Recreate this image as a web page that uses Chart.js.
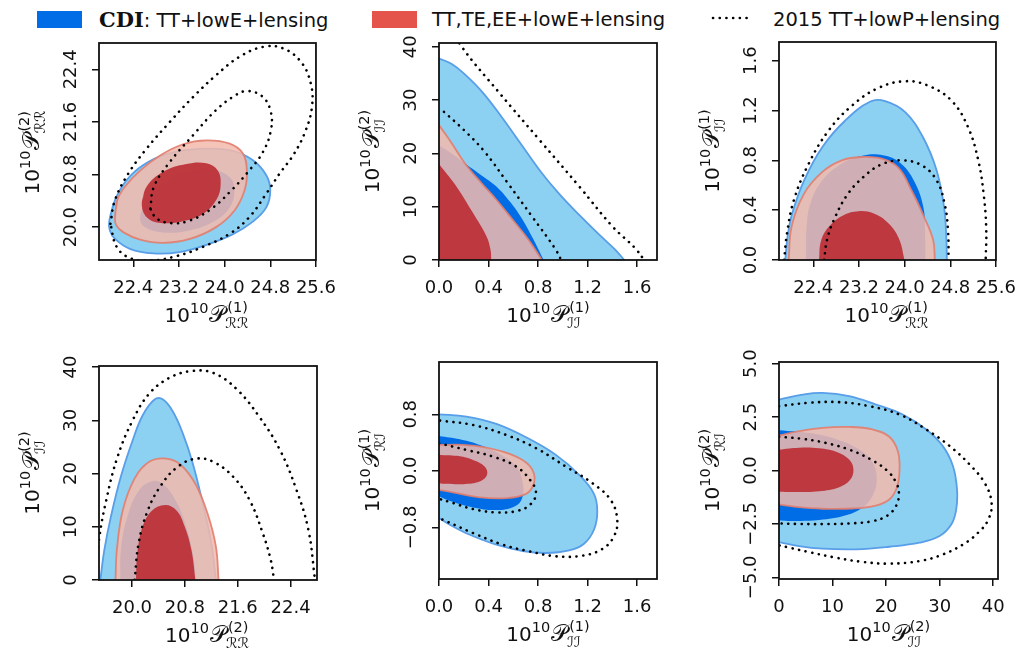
<!DOCTYPE html>
<html>
<head>
<meta charset="utf-8">
<script src="https://cdn.jsdelivr.net/npm/chart.js"></script>
<style>
  body { margin: 0; background: #fff; width: 1016px; height: 652px; position: relative; overflow: hidden; font-family: "DejaVu Sans", sans-serif; color: #111; }
  canvas { position: absolute; }
  .key { position: absolute; top: 11px; width: 45px; height: 17px; }
  .lbl { position: absolute; top: 10px; font-size: 19.5px; line-height: 20px; white-space: nowrap; }
  .cdi { font-family: "DejaVu Serif", serif; font-weight: bold; font-size: 21px; }
</style>
</head>
<body>
<div class="key" style="left:37px;background:#006ce6"></div>
<span class="lbl" style="left:99px"><span class="cdi">CDI</span>: TT+lowE+lensing</span>
<div class="key" style="left:372px;background:#e4544a"></div>
<span class="lbl" style="left:432px">TT,TE,EE+lowE+lensing</span>
<canvas id="dotKey" width="50" height="10" style="left:709px;top:13px"></canvas>
<span class="lbl" style="left:773px">2015 TT+lowP+lensing</span>

<script>
// tick positions
const rr1Ticks = [22.4, 23.2, 24.0, 24.8, 25.6];
const rr2Ticks = [20.0, 20.8, 21.6, 22.4];
const ii1Ticks = [0.0, 0.4, 0.8, 1.2, 1.6];
const ii2Ticks = [0, 10, 20, 30, 40];
const ri1Ticks = [-0.8, 0.0, 0.8];
const ri2Ticks = [-5.0, -2.5, 0.0, 2.5, 5.0];

// P(1)_RR vs P(2)_RR  (closed contours)
const rr1rr2BlueOuter = [[21.98,20.10],[22.08,20.41],[22.28,20.71],[22.57,20.94],[22.98,21.11],[23.56,21.19],[24.14,21.16],[24.49,21.02],[24.73,20.79],[24.80,20.56],[24.73,20.30],[24.49,20.08],[24.14,19.89],[23.68,19.73],[23.21,19.62],[22.75,19.60],[22.34,19.67],[22.08,19.82],[21.99,19.95]];
const rr1rr2BlueInner = [[22.52,20.15],[22.63,20.41],[22.92,20.66],[23.33,20.84],[23.80,20.87],[24.09,20.76],[24.17,20.56],[24.09,20.30],[23.80,20.08],[23.39,19.95],[22.92,19.92],[22.60,20.00]];
const rr1rr2RedOuter = [[22.08,20.15],[22.12,20.41],[22.25,20.61],[22.52,20.86],[22.87,21.09],[23.27,21.26],[23.68,21.32],[24.09,21.27],[24.32,21.12],[24.39,20.86],[24.35,20.56],[24.17,20.25],[23.85,20.00],[23.39,19.82],[22.92,19.76],[22.52,19.81],[22.23,19.92],[22.10,20.03]];
const rr1rr2RedInner = [[22.55,20.33],[22.63,20.61],[22.92,20.84],[23.33,20.96],[23.68,20.97],[23.88,20.86],[23.93,20.63],[23.85,20.41],[23.62,20.20],[23.27,20.09],[22.92,20.06],[22.66,20.13]];
const rr1rr2DotOuter = [[22.00,20.05],[22.08,20.41],[22.31,20.81],[22.63,21.19],[23.04,21.60],[23.45,21.98],[23.85,22.31],[24.26,22.59],[24.67,22.74],[25.02,22.72],[25.34,22.51],[25.51,22.18],[25.53,21.83],[25.42,21.47],[25.22,21.12],[24.96,20.81],[24.73,20.51],[24.43,20.15],[24.09,19.90],[23.62,19.70],[23.16,19.56],[22.69,19.49],[22.34,19.53],[22.11,19.70]];
const rr1rr2DotInner = [[22.70,20.28],[22.76,20.61],[23.04,20.99],[23.45,21.40],[23.85,21.78],[24.20,22.01],[24.41,22.07],[24.67,21.98],[24.81,21.75],[24.81,21.47],[24.67,21.14],[24.41,20.84],[24.12,20.56],[23.77,20.28],[23.39,20.10],[23.07,20.06],[22.81,20.13]];

// P(1)_II vs P(2)_II  (filled down to zero)
const ii1ii2BlueOuter = [[0,37.8],[0.1,36.8],[0.2,35.0],[0.35,31.5],[0.5,27.0],[0.666,21.6],[0.82,16.6],[0.974,12.3],[1.134,8.4],[1.3,4.6],[1.42,2.0],[1.496,0]];
const ii1ii2BlueInner = [[0,21.5],[0.1,20.0],[0.21,18.1],[0.33,16.1],[0.465,13.75],[0.57,11.0],[0.66,8.1],[0.75,4.4],[0.845,0]];
const ii1ii2RedOuter = [[0,25.3],[0.1,22.0],[0.21,18.1],[0.344,14.4],[0.46,11.4],[0.6,7.4],[0.72,3.9],[0.83,0]];
const ii1ii2RedInner = [[0,18.0],[0.142,13.75],[0.276,8.75],[0.384,4.4],[0.415,2.0],[0.424,0]];
const ii1ii2DotOuter = [[0.13,43],[0.174,40.3],[0.491,31.25],[0.812,22.5],[1.134,13.75],[1.402,6.25],[1.58,2.3],[1.657,0]];
const ii1ii2DotInner = [[0.04,27.8],[0.2,24.4],[0.365,20.4],[0.55,14.6],[0.75,8.2],[0.934,2.25],[0.987,0]];

// P(1)_RR vs P(1)_II
const rr1ii1BlueOuter = [[21.91,0],[21.95,0.187],[22.03,0.373],[22.24,0.64],[22.56,0.907],[22.96,1.12],[23.40,1.272],[23.66,1.275],[24.01,1.187],[24.32,0.987],[24.56,0.72],[24.69,0.427],[24.73,0.187],[24.74,0]];
const rr1ii1BlueInner = [[22.27,0],[22.28,0.24],[22.35,0.453],[22.56,0.64],[22.90,0.773],[23.28,0.838],[23.62,0.84],[23.92,0.78],[24.17,0.63],[24.33,0.42],[24.36,0.2],[24.37,0]];
const rr1ii1RedOuter = [[21.97,0],[22.02,0.267],[22.24,0.533],[22.56,0.707],[22.90,0.80],[23.25,0.827],[23.60,0.813],[23.89,0.741],[24.12,0.56],[24.34,0.347],[24.50,0.16],[24.53,0]];
const rr1ii1RedInner = [[22.50,0],[22.54,0.16],[22.70,0.28],[22.93,0.36],[23.19,0.392],[23.46,0.373],[23.72,0.293],[23.90,0.173],[24.00,0]];
const rr1ii1DotOuter = [[21.89,0],[21.94,0.213],[22.06,0.48],[22.32,0.773],[22.67,1.04],[23.08,1.24],[23.54,1.381],[24.01,1.435],[24.41,1.40],[24.82,1.28],[25.11,1.067],[25.29,0.80],[25.39,0.507],[25.43,0.24],[25.42,0]];
const rr1ii1DotInner = [[22.59,0],[22.64,0.16],[22.76,0.32],[22.99,0.52],[23.28,0.667],[23.60,0.768],[23.95,0.80],[24.30,0.76],[24.56,0.64],[24.70,0.453],[24.76,0.24],[24.77,0]];

// P(2)_RR vs P(2)_II
const rr2ii2BlueOuter = [[19.52,0],[19.58,5.6],[19.68,11.9],[19.83,19.4],[20.01,26.25],[20.16,30.9],[20.34,33.9],[20.47,33.9],[20.62,31.6],[20.77,27.5],[20.92,21.9],[21.07,14.4],[21.20,6.9],[21.27,0]];
const rr2ii2BlueInner = [[19.82,0],[19.83,5.6],[19.93,11.9],[20.11,16.9],[20.32,18.6],[20.49,17.8],[20.67,14.7],[20.82,10.0],[20.92,5.0],[20.97,0]];
const rr2ii2RedOuter = [[19.75,0],[19.77,5.6],[19.86,13.1],[20.04,19.1],[20.26,22.2],[20.52,22.8],[20.74,21.6],[20.97,17.8],[21.15,12.2],[21.27,6.25],[21.31,0]];
const rr2ii2RedInner = [[20.06,0],[20.08,5.0],[20.16,10.0],[20.30,13.0],[20.50,14.1],[20.67,13.1],[20.79,10.3],[20.90,5.6],[20.96,0]];
const rr2ii2DotOuter = [[19.45,0],[19.50,7.5],[19.61,15.0],[19.78,23.1],[20.01,30.0],[20.26,35.0],[20.57,38.0],[20.90,39.25],[21.23,38.9],[21.58,35.9],[21.93,30.6],[22.24,24.4],[22.49,16.9],[22.67,9.4],[22.77,0]];
const rr2ii2DotInner = [[20.04,0],[20.10,6.9],[20.24,13.1],[20.44,17.8],[20.69,21.25],[20.97,22.8],[21.23,22.2],[21.53,19.4],[21.78,15.0],[21.98,8.75],[22.10,3.75],[22.15,0]];

// P(1)_II vs P(1)_RI  (closed against the left axis)
const ii1ri1BlueOuter = [[0,0.80],[0.222,0.767],[0.463,0.664],[0.703,0.475],[0.944,0.226],[1.131,-0.056],[1.251,-0.325],[1.278,-0.574],[1.251,-0.833],[1.171,-1.031],[1.051,-1.125],[0.864,-1.162],[0.676,-1.134],[0.463,-1.045],[0.249,-0.904],[0.102,-0.776],[0,-0.668]];
const ii1ri1BlueInner = [[0,0.494],[0.168,0.447],[0.329,0.367],[0.489,0.24],[0.623,0.061],[0.676,-0.174],[0.671,-0.386],[0.61,-0.504],[0.463,-0.555],[0.275,-0.518],[0.115,-0.442],[0,-0.362]];
const ii1ri1RedOuter = [[0,0.367],[0.195,0.367],[0.382,0.329],[0.57,0.24],[0.703,0.118],[0.765,-0.033],[0.762,-0.198],[0.703,-0.325],[0.543,-0.386],[0.329,-0.376],[0.142,-0.315],[0,-0.268]];
const ii1ri1RedInner = [[0,0.226],[0.142,0.212],[0.275,0.155],[0.369,0.061],[0.388,-0.056],[0.329,-0.151],[0.195,-0.188],[0.061,-0.184],[0,-0.174]];
const ii1ri1DotOuter = [[0.008,0.711],[0.275,0.649],[0.543,0.508],[0.784,0.32],[1.024,0.061],[1.238,-0.174],[1.385,-0.409],[1.439,-0.692],[1.412,-0.927],[1.318,-1.106],[1.158,-1.2],[0.944,-1.209],[0.73,-1.139],[0.516,-1.045],[0.275,-0.88],[0.061,-0.715],[0,-0.668]];
const ii1ri1DotInner = [[0,0.391],[0.222,0.296],[0.436,0.202],[0.623,0.061],[0.735,-0.127],[0.783,-0.306],[0.743,-0.466],[0.636,-0.565],[0.463,-0.588],[0.275,-0.541],[0.115,-0.456],[0,-0.395]];

// P(2)_II vs P(2)_RI
const ii2ri2BlueOuter = [[0,3.32],[4.375,3.55],[8.125,3.63],[13.1,3.48],[18.1,3.09],[23.1,2.62],[27.5,1.92],[30.6,1.14],[32.5,0.2],[33.25,-0.89],[33.1,-1.82],[32.2,-2.52],[30.0,-3.07],[26.25,-3.38],[20.6,-3.57],[14.4,-3.69],[8.1,-3.66],[3.75,-3.54],[0,-3.35]];
const ii2ri2BlueInner = [[0,1.89],[5.6,1.76],[10.6,1.48],[15.0,0.98],[17.5,0.36],[18.25,-0.42],[17.6,-1.12],[15.9,-1.67],[12.5,-2.1],[7.5,-2.32],[2.5,-2.36],[0,-2.34]];
const ii2ri2RedOuter = [[0,1.64],[3.75,1.84],[8.1,2.0],[13.1,2.04],[17.5,1.92],[20.6,1.58],[22.2,0.9],[22.5,-0.03],[22.0,-0.81],[20.6,-1.36],[18.1,-1.64],[13.75,-1.78],[8.1,-1.79],[3.1,-1.70],[0,-1.59]];
const ii2ri2RedInner = [[0,0.98],[3.75,1.07],[7.5,1.04],[10.9,0.86],[13.1,0.51],[13.9,0.05],[13.25,-0.45],[11.25,-0.78],[7.5,-0.97],[3.1,-1.01],[0,-1.0]];
const ii2ri2DotOuter = [[0,3.01],[5.6,3.17],[11.25,3.2],[16.9,3.01],[22.5,2.62],[27.5,1.92],[31.9,1.14],[35.6,0.28],[38.4,-0.58],[39.7,-1.51],[39.1,-2.29],[37.2,-2.91],[34.4,-3.46],[30.6,-3.93],[26.25,-4.24],[20.6,-4.36],[15.6,-4.28],[10.6,-4.08],[5.6,-3.82],[1.9,-3.61],[0,-3.5]];
const ii2ri2DotInner = [[0,1.58],[4.4,1.48],[8.75,1.29],[13.1,0.98],[17.2,0.51],[20.3,-0.03],[21.9,-0.58],[22.4,-1.08],[21.9,-1.64],[20.3,-2.1],[17.5,-2.37],[13.1,-2.48],[8.1,-2.51],[3.1,-2.5],[0,-2.48]];

const INK = '#111';
const BLUE_LIGHT = 'rgb(140,208,242)';
const BLUE_EDGE = 'rgb(88,158,232)';
const BLUE_DARK = 'rgb(0,108,230)';
const RED_LIGHT = 'rgba(243,186,171,0.85)';
const RED_EDGE = 'rgba(226,125,110,0.9)';
const RED_DARK = 'rgba(188,47,53,0.92)';
const AX_W = 98, AX_H = 80, PAD_T = 12, PAD_R = 30;

const P = '\u{1D4AB}', R = '\u211B', I = '\u2110';

const panels = [
  { box: [99, 43, 317, 260], mode: 'loop',
    x: { min: 21.8, max: 25.6, ticks: rr1Ticks, dec: 1, sup: '(1)', sub: R + R },
    y: { min: 19.5, max: 22.8, ticks: rr2Ticks, dec: 1, sup: '(2)', sub: R + R },
    sets: [rr1rr2BlueOuter, rr1rr2BlueInner, rr1rr2RedOuter, rr1rr2RedInner, rr1rr2DotOuter, rr1rr2DotInner] },
  { box: [439, 43, 657, 260], mode: 'origin',
    x: { min: 0, max: 1.76, ticks: ii1Ticks, dec: 1, sup: '(1)', sub: I + I },
    y: { min: 0, max: 40.7, ticks: ii2Ticks, dec: 0, sup: '(2)', sub: I + I },
    sets: [ii1ii2BlueOuter, ii1ii2BlueInner, ii1ii2RedOuter, ii1ii2RedInner, ii1ii2DotOuter, ii1ii2DotInner] },
  { box: [779, 42, 997, 260], mode: 'origin',
    x: { min: 21.8, max: 25.6, ticks: rr1Ticks, dec: 1, sup: '(1)', sub: R + R },
    y: { min: 0, max: 1.75, ticks: ii1Ticks, dec: 1, sup: '(1)', sub: I + I },
    sets: [rr1ii1BlueOuter, rr1ii1BlueInner, rr1ii1RedOuter, rr1ii1RedInner, rr1ii1DotOuter, rr1ii1DotInner] },
  { box: [99, 366, 317, 580], mode: 'origin',
    x: { min: 19.5, max: 22.8, ticks: rr2Ticks, dec: 1, sup: '(2)', sub: R + R },
    y: { min: 0, max: 40.2, ticks: ii2Ticks, dec: 0, sup: '(2)', sub: I + I },
    sets: [rr2ii2BlueOuter, rr2ii2BlueInner, rr2ii2RedOuter, rr2ii2RedInner, rr2ii2DotOuter, rr2ii2DotInner] },
  { box: [439, 362, 657, 579], mode: 'shape',
    x: { min: 0, max: 1.76, ticks: ii1Ticks, dec: 1, sup: '(1)', sub: I + I },
    y: { min: -1.53, max: 1.54, ticks: ri1Ticks, dec: 1, sup: '(1)', sub: R + I },
    sets: [ii1ri1BlueOuter, ii1ri1BlueInner, ii1ri1RedOuter, ii1ri1RedInner, ii1ri1DotOuter, ii1ri1DotInner] },
  { box: [779, 362, 998, 579], mode: 'shape',
    x: { min: 0, max: 40.9, ticks: ii2Ticks, dec: 0, sup: '(2)', sub: I + I },
    y: { min: -5.08, max: 5.08, ticks: ri2Ticks, dec: 1, sup: '(2)', sub: R + I },
    sets: [ii2ri2BlueOuter, ii2ri2BlueInner, ii2ri2RedOuter, ii2ri2RedInner, ii2ri2DotOuter, ii2ri2DotInner] },
];

function fmt(dec) {
  return v => (dec ? Number(v).toFixed(dec) : String(v)).replace('-', '\u2212');
}

// 10^10 P^{sup}_{sub}, centred on (cx, cy)
function mathTitle(ctx, cx, cy, rot, sup, sub) {
  ctx.save();
  ctx.translate(cx, cy);
  ctx.rotate(rot);
  ctx.fillStyle = INK;
  ctx.textBaseline = 'alphabetic';
  ctx.textAlign = 'left';
  const big = '20px "DejaVu Sans"', small = '14.5px "DejaVu Sans"', cal = '23px "DejaVu Sans", "DejaVu Serif"';
  ctx.font = big; const w1 = ctx.measureText('10').width;
  ctx.font = small;
  const w2 = ctx.measureText('10').width;
  const w4 = Math.max(ctx.measureText(sup).width, ctx.measureText(sub).width);
  ctx.font = cal; const w3 = ctx.measureText(P).width;
  let x = -(w1 + w2 + w3 + w4 + 2) / 2;
  ctx.font = big; ctx.fillText('10', x, 0); x += w1;
  ctx.font = small; ctx.fillText('10', x, -9); x += w2 + 1;
  ctx.font = cal; ctx.fillText(P, x, 0); x += w3 + 1;
  ctx.font = small;
  ctx.fillText(sup, x, -10);
  ctx.fillText(sub, x - 2, 6);
  ctx.restore();
}

const decorations = {
  id: 'decorations',
  afterDatasetsDraw(chart) {
    const { ctx, chartArea: a } = chart;
    ctx.save();
    ctx.strokeStyle = INK;
    ctx.lineWidth = 1.8;
    ctx.strokeRect(a.left, a.top, a.right - a.left, a.bottom - a.top);
    ctx.restore();
  },
  afterDraw(chart) {
    const { ctx, chartArea: a } = chart;
    const cfg = chart.options.plugins.decorations;
    const ys = chart.scales.y;
    const f = fmt(cfg.y.dec);
    ctx.save();
    ctx.fillStyle = INK;
    ctx.font = '18px "DejaVu Sans"';
    ctx.textAlign = 'center';
    ctx.textBaseline = 'alphabetic';
    ys.ticks.forEach(t => {
      ctx.save();
      ctx.translate(a.left - 23, ys.getPixelForValue(t.value));
      ctx.rotate(-Math.PI / 2);
      ctx.fillText(f(t.value), 0, 0);
      ctx.restore();
    });
    ctx.restore();
    mathTitle(ctx, (a.left + a.right) / 2, a.bottom + 62, 0, cfg.x.sup, cfg.x.sub);
    mathTitle(ctx, a.left - 60, (a.top + a.bottom) / 2, -Math.PI / 2, cfg.y.sup, cfg.y.sub);
  }
};

function axis(ax, horizontal) {
  return {
    type: 'linear',
    min: ax.min,
    max: ax.max,
    afterBuildTicks: s => { s.ticks = ax.ticks.map(v => ({ value: v })); },
    afterFit: s => { if (horizontal) s.height = AX_H; else s.width = AX_W; },
    ticks: {
      display: horizontal,
      callback: fmt(ax.dec),
      font: { family: 'DejaVu Sans', size: 18 },
      color: INK,
      padding: 11,
      maxRotation: 0,
      autoSkip: false
    },
    grid: { display: true, drawOnChartArea: false, drawTicks: true, tickLength: 7, color: INK, lineWidth: 1.5 },
    border: { display: false }
  };
}

function contourSets(sets, mode) {
  const fillMode = mode === 'loop' ? 'shape' : mode;
  const pts = (arr, closeTwice) => {
    let p = arr;
    if (mode === 'loop') p = closeTwice ? arr.concat([arr[0], arr[1]]) : arr.concat([arr[0]]);
    return p.map(([x, y]) => ({ x, y }));
  };
  const base = { showLine: true, pointRadius: 0, tension: 0.4 };
  const clear = 'rgba(0,0,0,0)';
  const dotted = { fill: false, backgroundColor: clear, borderColor: '#000', borderWidth: 2.6, borderDash: [0.1, 6.6], borderCapStyle: 'round' };
  return [
    { ...base, data: pts(sets[0], true), fill: fillMode, backgroundColor: BLUE_LIGHT, borderColor: BLUE_EDGE, borderWidth: 1.8, order: 6 },
    { ...base, data: pts(sets[1], true), fill: fillMode, backgroundColor: BLUE_DARK, borderColor: clear, borderWidth: 0, order: 5 },
    { ...base, data: pts(sets[2], true), fill: fillMode, backgroundColor: RED_LIGHT, borderColor: RED_EDGE, borderWidth: 1.8, order: 4 },
    { ...base, data: pts(sets[3], true), fill: fillMode, backgroundColor: RED_DARK, borderColor: clear, borderWidth: 0, order: 3 },
    { ...base, ...dotted, data: pts(sets[4], false), order: 2 },
    { ...base, ...dotted, data: pts(sets[5], false), order: 1 }
  ];
}

panels.forEach(p => {
  const [l, t, r, b] = p.box;
  const cv = document.createElement('canvas');
  cv.width = (r - l) + AX_W + PAD_R;
  cv.height = (b - t) + PAD_T + AX_H;
  cv.style.left = (l - AX_W) + 'px';
  cv.style.top = (t - PAD_T) + 'px';
  document.body.appendChild(cv);
  new Chart(cv, {
    type: 'scatter',
    data: { datasets: contourSets(p.sets, p.mode) },
    options: {
      responsive: false,
      animation: false,
      events: [],
      layout: { padding: { left: 0, top: PAD_T, right: PAD_R, bottom: 0 } },
      plugins: {
        legend: { display: false },
        tooltip: { enabled: false },
        decorations: { x: p.x, y: p.y }
      },
      scales: { x: axis(p.x, true), y: axis(p.y, false) }
    },
    plugins: [decorations]
  });
});

// dotted legend key
const dk = document.getElementById('dotKey').getContext('2d');
dk.strokeStyle = '#000';
dk.lineWidth = 2.6;
dk.lineCap = 'round';
dk.setLineDash([0.1, 6.6]);
dk.beginPath();
dk.moveTo(4, 5);
dk.lineTo(44, 5);
dk.stroke();
</script>
</body>
</html>
